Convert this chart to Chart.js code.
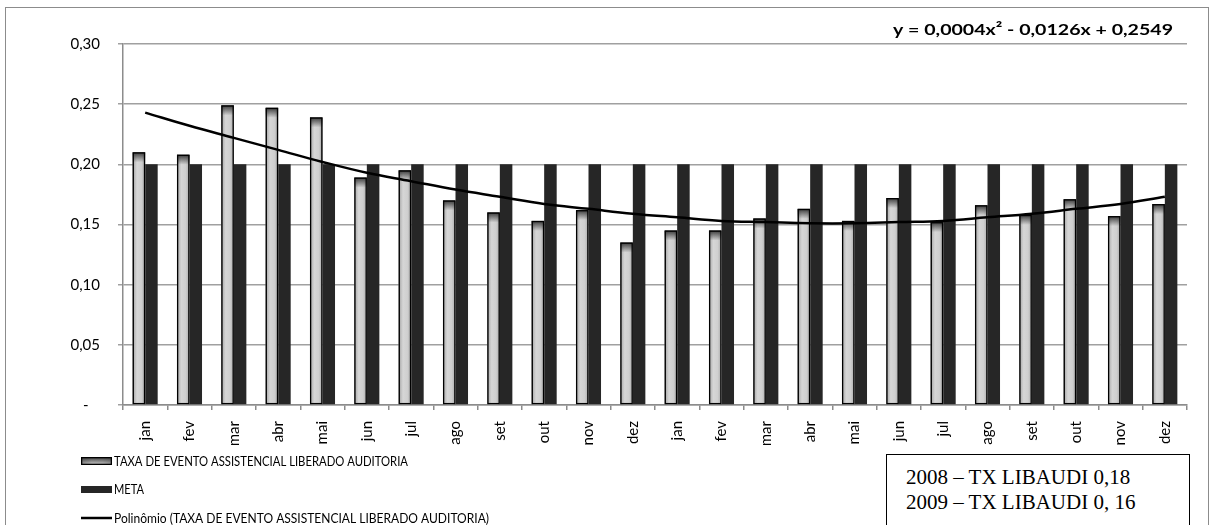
<!DOCTYPE html>
<html lang="pt-BR">
<head>
<meta charset="utf-8">
<title>Taxa de evento assistencial liberado auditoria</title>
<script src="https://cdn.jsdelivr.net/npm/chart.js@4.4.1/dist/chart.umd.min.js"></script>
<style>
    html, body { margin: 0; padding: 0; background: #fff; overflow: hidden; }
    #quadro { position: relative; width: 1210px; height: 525px; }
    #moldura {
        position: absolute; left: 5px; top: 7px; width: 1204px; height: 540px;
        box-sizing: border-box; border: 1.5px solid #8c8c8c; pointer-events: none;
    }
    #grafico { position: absolute; left: 0; top: 0; }
    #caixaAnual {
        position: absolute; left: 886px; top: 454px; width: 304px; height: 90px;
        box-sizing: border-box; border: 1.5px solid #000; background: #fff;
        padding: 10px 0 0 19px;
        font-family: 'Liberation Serif', 'Times New Roman', serif; font-size: 21px; line-height: 25px; color: #000;
    }
</style>
</head>
<body>
<div id="quadro">
    <canvas id="grafico" width="1210" height="525"></canvas>
    <div id="moldura"></div>
    <div id="caixaAnual">2008 – TX LIBAUDI 0,18<br>2009 – TX LIBAUDI 0, 16</div>
</div>
<script>
// meses de 2008 e 2009
const categorias = ['jan', 'fev', 'mar', 'abr', 'mai', 'jun', 'jul', 'ago', 'set', 'out', 'nov', 'dez',
                    'jan', 'fev', 'mar', 'abr', 'mai', 'jun', 'jul', 'ago', 'set', 'out', 'nov', 'dez'];

const taxaLiberado = [0.210, 0.208, 0.249, 0.247, 0.239, 0.189, 0.195, 0.170, 0.160, 0.153, 0.162, 0.135,
                      0.145, 0.145, 0.155, 0.163, 0.153, 0.172, 0.152, 0.166, 0.158, 0.171, 0.157, 0.167];

const meta = [0.20, 0.20, 0.20, 0.20, 0.20, 0.20, 0.20, 0.20, 0.20, 0.20, 0.20, 0.20,
              0.20, 0.20, 0.20, 0.20, 0.20, 0.20, 0.20, 0.20, 0.20, 0.20, 0.20, 0.20];

// linha de tendência polinomial (2ª ordem)
const tendencia = [0.243, 0.232, 0.222, 0.212, 0.202, 0.193, 0.186, 0.179, 0.173, 0.167, 0.163, 0.159,
                   0.156, 0.153, 0.152, 0.151, 0.151, 0.152, 0.153, 0.156, 0.159, 0.163, 0.167, 0.173];

const equacao = 'y = 0,0004x² - 0,0126x + 0,2549';
const ticksY = [0, 0.05, 0.10, 0.15, 0.20, 0.25, 0.30];

const FONTE = "Lato, 'Open Sans', sans-serif";
Chart.defaults.font.family = FONTE;
Chart.defaults.color = '#000';

// texto esticado/comprimido para ocupar a largura desejada
const textoAjustado = (ctx, texto, x, y, largura) => {
    const medida = ctx.measureText(texto).width;
    ctx.save();
    ctx.translate(x, y);
    ctx.scale(largura / medida, 1);
    ctx.fillText(texto, 0, 0);
    ctx.restore();
};

// preenchimento das barras cinzas com degradê (como no Excel)
const pintarBarraCinza = (ctx, left, top, width, height) => {
    const horiz = ctx.createLinearGradient(left, 0, left + width, 0);
    horiz.addColorStop(0, '#a4a4a4');
    horiz.addColorStop(0.35, '#d6d6d6');
    horiz.addColorStop(0.7, '#cfcfcf');
    horiz.addColorStop(1, '#a8a8a8');
    ctx.fillStyle = horiz;
    ctx.fillRect(left, top, width, height);

    const topo = Math.min(10, height);
    const vert = ctx.createLinearGradient(0, top, 0, top + topo);
    vert.addColorStop(0, 'rgba(40,40,40,0.9)');
    vert.addColorStop(1, 'rgba(40,40,40,0)');
    ctx.fillStyle = vert;
    ctx.fillRect(left, top, width, topo);

    ctx.strokeStyle = '#000';
    ctx.lineWidth = 1.3;
    ctx.strokeRect(left + 0.65, top + 0.65, width - 1.3, height - 1.3);
};

const degradeBarras = {
    id: 'degradeBarras',
    afterDatasetDraw(chart, args) {
        if (args.index !== 1) return;
        const ctx = chart.ctx;
        ctx.save();
        args.meta.data.forEach(bar => {
            const { x, y, base, width } = bar.getProps(['x', 'y', 'base', 'width'], true);
            pintarBarraCinza(ctx, x - width / 2, y, width, base - y);
        });
        ctx.restore();
    }
};

const legendaEquacao = {
    id: 'legendaEquacao',
    afterDraw(chart) {
        const ctx = chart.ctx;
        const ds = chart.data.datasets;
        ctx.save();

        // equação da tendência
        ctx.fillStyle = '#000';
        ctx.font = `bold 16px ${FONTE}`;
        ctx.textBaseline = 'alphabetic';
        textoAjustado(ctx, equacao, 893, 35, 280);

        // legenda empilhada
        const itens = [
            { ds: ds[1], y: 461, largura: 294 },
            { ds: ds[2], y: 489.5, largura: 30 },
            { ds: ds[0], y: 518, largura: 375 }
        ];
        ctx.font = `14px ${FONTE}`;
        ctx.textBaseline = 'middle';
        itens.forEach((item, i) => {
            if (i === 0) {
                pintarBarraCinza(ctx, 81, item.y - 4, 31, 8);
            } else if (i === 1) {
                ctx.fillStyle = item.ds.backgroundColor;
                ctx.fillRect(81, item.y - 3.5, 31, 7);
            } else {
                ctx.strokeStyle = item.ds.borderColor;
                ctx.lineWidth = 2.5;
                ctx.beginPath();
                ctx.moveTo(81, item.y);
                ctx.lineTo(112, item.y);
                ctx.stroke();
            }
            ctx.fillStyle = '#000';
            textoAjustado(ctx, item.ds.label, 114, item.y, item.largura);
        });
        ctx.restore();
    }
};

new Chart(document.getElementById('grafico'), {
    type: 'bar',
    data: {
        labels: categorias,
        datasets: [
            {
                type: 'line',
                label: 'Polinômio (TAXA DE EVENTO ASSISTENCIAL LIBERADO AUDITORIA)',
                data: tendencia,
                borderColor: '#000',
                borderWidth: 2.5,
                pointRadius: 0,
                tension: 0.4,
                order: 0
            },
            {
                label: 'TAXA DE EVENTO ASSISTENCIAL LIBERADO AUDITORIA',
                data: taxaLiberado,
                backgroundColor: '#c8c8c8',
                borderColor: '#000',
                borderWidth: 1.3,
                categoryPercentage: 0.565,
                barPercentage: 1,
                order: 1
            },
            {
                label: 'META',
                data: meta,
                backgroundColor: '#262626',
                borderWidth: 0,
                categoryPercentage: 0.565,
                barPercentage: 1,
                order: 1
            }
        ]
    },
    options: {
        responsive: false,
        animation: false,
        layout: { padding: { top: 44, right: 23, bottom: 80, left: 0 } },
        plugins: {
            legend: { display: false },
            tooltip: { enabled: false }
        },
        scales: {
            x: {
                afterFit: scale => { scale.height = 40; },
                grid: { offset: true, drawOnChartArea: false, tickLength: 5, color: '#8c8c8c', lineWidth: 1.5 },
                border: { color: '#8c8c8c', width: 1.5 },
                ticks: {
                    autoSkip: false, maxRotation: 90, minRotation: 90, padding: 11,
                    font: { size: 15 }, color: '#000'
                }
            },
            y: {
                min: 0,
                max: 0.30,
                afterFit: scale => { scale.width = 123; },
                afterBuildTicks: scale => { scale.ticks = ticksY.map(v => ({ value: v })); },
                grid: { color: '#a0a0a0', lineWidth: 1.5, tickLength: 5 },
                border: { color: '#8c8c8c', width: 1.5 },
                ticks: {
                    padding: 18,
                    font: { size: 15 },
                    color: '#000',
                    callback: v => v === 0 ? '-   ' : v.toFixed(2).replace('.', ',')
                }
            }
        }
    },
    plugins: [degradeBarras, legendaEquacao]
});
</script>
</body>
</html>
